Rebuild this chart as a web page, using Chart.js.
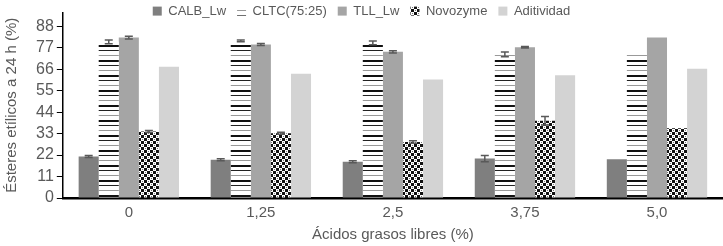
<!DOCTYPE html>
<html lang="es">
<head>
<meta charset="UTF-8">
<title>Ésteres etílicos</title>
<script src="https://cdn.jsdelivr.net/npm/chart.js"></script>
<style>
  html, body { margin: 0; padding: 0; background: #fff; }
  #wrap { width: 723px; height: 246px; }
</style>
</head>
<body>
<div id="wrap"><canvas id="grafico"></canvas></div>
<script>
// datos
const categorias = ['0', '1,25', '2,5', '3,75', '5,0'];
const calb      = [21.3, 19.6, 18.6, 20.2, 19.9];
const cltc      = [80.0, 80.5, 79.5, 73.6, 74.2];
const tll       = [82.2, 78.7, 74.9, 77.2, 82.2];
const novozyme  = [34.1, 33.2, 28.7, 39.6, 35.7];
const aditividad = [67.3, 63.7, 60.7, 62.9, 66.2];
// desviaciones (barras de error)
const errCalb = [0.5, 0.5, 0.5, 1.6, 0];
const errCltc = [1.0, 0.5, 1.0, 1.2, 0];
const errTll  = [0.7, 0.5, 0.6, 0.4, 0];
const errNovo = [0.5, 0.5, 0.6, 2.2, 0];
const errAdit = [0, 0, 0, 0, 0];
const ticksY = [0, 11, 22, 33, 44, 55, 66, 77, 88];

// tramas
function rayas() {
    const c = document.createElement('canvas');
    c.width = 4; c.height = 15;
    const x = c.getContext('2d');
    x.fillStyle = '#fff'; x.fillRect(0, 0, 4, 15);
    x.fillStyle = '#111'; x.fillRect(0, 0, 4, 2);
    x.fillStyle = '#222'; x.fillRect(0, 5, 4, 1);
    x.fillStyle = '#999'; x.fillRect(0, 10, 4, 1);
    return x.createPattern(c, 'repeat');
}
function cuadros() {
    const c = document.createElement('canvas');
    c.width = 6; c.height = 6;
    const x = c.getContext('2d');
    x.fillStyle = '#fff'; x.fillRect(0, 0, 6, 6);
    x.fillStyle = '#111';
    x.fillRect(0, 0, 3, 3);
    x.fillRect(3, 3, 3, 3);
    x.fillStyle = '#777';
    x.fillRect(4, 1, 1, 1);
    x.fillRect(1, 4, 1, 1);
    return x.createPattern(c, 'repeat');
}

const errorBars = {
    id: 'errorBars',
    afterDatasetsDraw(chart) {
        const ctx = chart.ctx;
        const y = chart.scales.y;
        ctx.save();
        ctx.strokeStyle = '#595959';
        ctx.lineWidth = 1.5;
        chart.data.datasets.forEach((ds, i) => {
            const meta = chart.getDatasetMeta(i);
            ds.err.forEach((e, j) => {
                if (!e) return;
                const bar = meta.data[j];
                const v = ds.data[j];
                const top = y.getPixelForValue(v + e);
                const bot = y.getPixelForValue(v - e);
                ctx.beginPath();
                ctx.moveTo(bar.x, top); ctx.lineTo(bar.x, bot);
                ctx.moveTo(bar.x - 4, top); ctx.lineTo(bar.x + 4, top);
                ctx.moveTo(bar.x - 4, bot); ctx.lineTo(bar.x + 4, bot);
                ctx.stroke();
            });
        });
        ctx.restore();
    }
};

// la leyenda se superpone al area del grafico, como en el original
const leyendaBaja = {
    id: 'leyendaBaja',
    beforeLayout(chart) {
        const lg = chart.legend;
        if (lg && !lg._bajo) {
            const fit = lg.fit;
            lg.fit = function () { fit.call(this); this.height = 19; };
            lg.draw = function () { if (this.options.display) this._draw(); };
            lg._bajo = true;
        }
    }
};

Chart.defaults.font.family = '"Liberation Sans", Arial, sans-serif';
Chart.defaults.color = '#595959';

new Chart(document.getElementById('grafico'), {
    type: 'bar',
    data: {
        labels: categorias,
        datasets: [
            { label: 'CALB_Lw', data: calb, err: errCalb, backgroundColor: '#7f7f7f' },
            { label: 'CLTC(75:25)', data: cltc, err: errCltc, backgroundColor: rayas() },
            { label: 'TLL_Lw', data: tll, err: errTll, backgroundColor: '#a5a5a5' },
            { label: 'Novozyme', data: novozyme, err: errNovo, backgroundColor: cuadros() },
            { label: 'Aditividad', data: aditividad, err: errAdit, backgroundColor: '#d3d3d3' }
        ]
    },
    options: {
        responsive: true,
        maintainAspectRatio: false,
        animation: false,
        datasets: { bar: { categoryPercentage: 0.76, barPercentage: 1.0 } },
        layout: { padding: { left: 0, right: 0, top: -11, bottom: 2 } },
        plugins: {
            legend: {
                position: 'top',
                labels: { boxWidth: 9, boxHeight: 9, padding: 11, font: { size: 13 } }
            },
            tooltip: { enabled: false }
        },
        scales: {
            x: {
                grid: { display: false, drawTicks: false },
                border: { color: '#000', width: 2.5 },
                ticks: { font: { size: 15 }, padding: 6 },
                title: { display: true, text: 'Ácidos grasos libres (%)', font: { size: 15 }, padding: { top: -2, bottom: 0 } }
            },
            y: {
                min: 0, max: 95,
                afterBuildTicks(scale) {
                    scale.ticks = ticksY.map(v => ({ value: v }));
                },
                grid: { drawOnChartArea: false, drawTicks: true, tickLength: 6, color: '#000' },
                border: { color: '#000', width: 1.5 },
                ticks: { font: { size: 16 }, padding: 3 },
                title: { display: true, text: 'Ésteres etílicos a 24 h (%)', font: { size: 15 }, padding: { top: 3, bottom: 12 } }
            }
        }
    },
    plugins: [errorBars, leyendaBaja]
});
</script>
</body>
</html>
